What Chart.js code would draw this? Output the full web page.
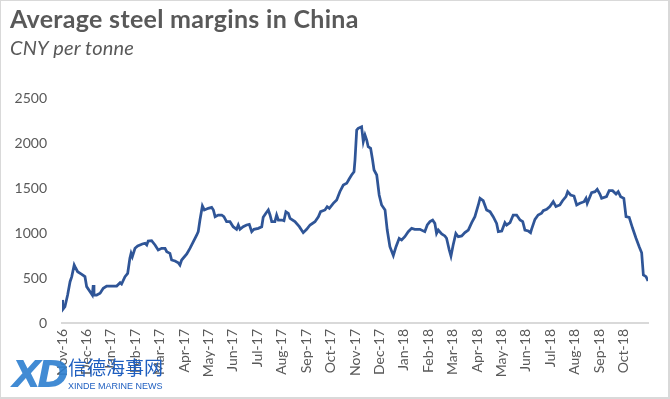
<!DOCTYPE html>
<html>
<head>
<meta charset="utf-8">
<script src="https://cdn.jsdelivr.net/npm/chart.js@4.4.1/dist/chart.umd.min.js"></script>
<style>
  html, body { margin: 0; padding: 0; background: #fff; }
  #wrap { position: relative; width: 670px; height: 399px; overflow: hidden; font-family: Lato, "Open Sans", sans-serif; }
  #grafico { position: absolute; left: 0; top: 0; }
  .titulo { position: absolute; left: 10px; top: 3px; font-size: 25px; font-weight: bold; color: #595959; white-space: nowrap; letter-spacing: 0.3px; }
  .subtitulo { position: absolute; left: 10px; top: 35px; font-size: 20px; font-style: italic; color: #595959; white-space: nowrap; letter-spacing: 0.2px; }
  .moldura { position: absolute; left: 0; top: 0; width: 670px; height: 399px; box-sizing: border-box; border: 1px solid #d9d9d9; border-right-width: 2px; border-bottom-width: 2px; pointer-events: none; }
  .marca { position: absolute; left: 12px; top: 355px; pointer-events: none; }
  .marca .xd { position: absolute; left: 0; top: 0; font: bold italic 38px "DejaVu Sans", sans-serif; color: #2d7fd0; letter-spacing: -4px; opacity: 0.9; line-height: 38px; }
  .marca .cn { position: absolute; left: 56px; top: 1px; font: 19px "Noto Sans CJK SC", sans-serif; color: #1f5fc0; letter-spacing: 0px; white-space: nowrap; line-height: 22px; }
  .marca .en { position: absolute; left: 56px; top: 26px; font: 9px "Liberation Sans", sans-serif; color: #1f5fc0; white-space: nowrap; }
</style>
</head>
<body>
<div id="wrap">
  <canvas id="grafico" width="670" height="399"></canvas>
  <div class="titulo">Average steel margins in China</div>
  <div class="subtitulo">CNY per tonne</div>
  <div class="marca">
    <div class="xd">XD</div>
    <div class="cn">信德海事网</div>
    <div class="en">XINDE MARINE NEWS</div>
  </div>
  <div class="moldura"></div>
</div>
<script>
// Rótulos dos meses (eixo x), um por início de mês a partir de Nov-16
const meses = [
    "Nov-16", "Dec-16", "Jan-17", "Feb-17", "Mar-17", "Apr-17", "May-17", "Jun-17",
    "Jul-17", "Aug-17", "Sep-17", "Oct-17", "Nov-17", "Dec-17", "Jan-18", "Feb-18",
    "Mar-18", "Apr-18", "May-18", "Jun-18", "Jul-18", "Aug-18", "Sep-18", "Oct-18"
];

// Rótulos do eixo y
const ticksY = [0, 500, 1000, 1500, 2000, 2500];

// Tempo de cada ponto, em meses desde 1 Nov 2016
const tempo = [
    0.00, 0.03, 0.12, 0.23, 0.33, 0.40, 0.50, 0.56, 0.64, 0.81, 0.94, 1.01, 1.15, 1.24, 1.28, 1.31,
    1.42, 1.56, 1.69, 1.83, 2.04, 2.24, 2.38, 2.44, 2.58, 2.69, 2.78, 2.83, 2.88, 2.99, 3.10, 3.29,
    3.40, 3.47, 3.53, 3.67, 3.81, 3.94, 4.08, 4.22, 4.29, 4.42, 4.49, 4.63, 4.76, 4.83, 4.90, 5.11,
    5.24, 5.38, 5.52, 5.58, 5.65, 5.75, 5.83, 5.99, 6.13, 6.20, 6.27, 6.40, 6.54, 6.63, 6.74, 6.88,
    7.01, 7.15, 7.22, 7.29, 7.42, 7.56, 7.67, 7.77, 7.86, 8.04, 8.18, 8.24, 8.35, 8.45, 8.52, 8.59,
    8.72, 8.79, 8.86, 9.00, 9.09, 9.17, 9.27, 9.34, 9.54, 9.72, 9.88, 10.02, 10.16, 10.36, 10.50, 10.59,
    10.77, 10.86, 10.95, 11.11, 11.25, 11.38, 11.52, 11.66, 11.76, 11.86, 11.96, 12.00, 12.07, 12.13, 12.27, 12.34,
    12.41, 12.48, 12.54, 12.64, 12.72, 12.78, 12.89, 12.99, 13.09, 13.23, 13.32, 13.43, 13.57, 13.68, 13.81, 13.91,
    14.04, 14.18, 14.32, 14.45, 14.66, 14.86, 14.96, 15.07, 15.18, 15.27, 15.34, 15.41, 15.55, 15.68, 15.75, 15.86,
    15.93, 16.02, 16.13, 16.23, 16.37, 16.50, 16.64, 16.78, 16.91, 17.05, 17.12, 17.25, 17.39, 17.53, 17.66, 17.80,
    17.87, 18.01, 18.14, 18.21, 18.35, 18.48, 18.62, 18.76, 18.87, 18.96, 19.10, 19.19, 19.23, 19.37, 19.50, 19.64,
    19.71, 19.85, 19.98, 20.12, 20.23, 20.39, 20.50, 20.64, 20.71, 20.83, 20.97, 21.08, 21.21, 21.38, 21.46, 21.51,
    21.69, 21.83, 21.92, 22.03, 22.10, 22.30, 22.41, 22.55, 22.69, 22.78, 22.88, 23.01, 23.10, 23.23, 23.37, 23.51,
    23.64, 23.74, 23.81, 23.92, 24.00
];

// Margem média do aço (CNY por tonelada)
const margens = [
    256, 150, 181, 311, 459, 515, 644, 611, 570, 541, 515, 404, 348, 311, 422, 311,
    311, 330, 385, 411, 411, 411, 448, 433, 515, 552, 718, 774, 737, 830, 856, 878,
    885, 867, 911, 915, 867, 811, 830, 830, 793, 774, 700, 689, 670, 644, 700, 767,
    830, 904, 978, 1015, 1144, 1300, 1256, 1274, 1285, 1256, 1181, 1200, 1200, 1181, 1126, 1126,
    1070, 1041, 1089, 1041, 1070, 1089, 1096, 1015, 1041, 1052, 1070, 1174, 1219, 1256, 1200, 1126,
    1126, 1200, 1144, 1144, 1137, 1237, 1219, 1163, 1126, 1070, 1004, 1041, 1089, 1126, 1181, 1237,
    1256, 1293, 1274, 1330, 1367, 1459, 1533, 1552, 1600, 1644, 1681, 1811, 2144, 2163, 2181, 2015,
    2089, 2033, 1959, 1941, 1811, 1700, 1644, 1422, 1311, 1256, 1033, 848, 750, 848, 941, 922,
    959, 1015, 1052, 1041, 1041, 1015, 1089, 1126, 1144, 1107, 996, 1033, 990, 967, 941, 811,
    744, 867, 996, 959, 967, 1004, 1033, 1115, 1181, 1311, 1385, 1359, 1256, 1237, 1181, 1107,
    1015, 1022, 1115, 1089, 1115, 1200, 1200, 1144, 1126, 1033, 1022, 1004, 1041, 1152, 1200, 1219,
    1248, 1263, 1293, 1348, 1293, 1311, 1359, 1404, 1459, 1422, 1411, 1311, 1330, 1348, 1385, 1330,
    1448, 1459, 1485, 1433, 1385, 1404, 1470, 1470, 1433, 1459, 1404, 1385, 1181, 1174, 1052, 941,
    848, 781, 533, 515, 467
];

const cinza = '#595959';
const fonteEixo = { family: 'Lato, "Open Sans", sans-serif', size: 14 };

function renderizarGrafico() {
    const ctx = document.getElementById('grafico').getContext('2d');
    const pontos = tempo.map((t, i) => ({ x: t, y: margens[i] }));

    new Chart(ctx, {
        type: 'line',
        data: {
            datasets: [{
                data: pontos,
                borderColor: '#2F5597',
                borderWidth: 2.75,
                pointRadius: 0,
                tension: 0,
                fill: false
            }]
        },
        options: {
            responsive: false,
            animation: false,
            layout: { padding: { left: 0, right: 22, top: 98, bottom: 0 } },
            plugins: {
                legend: { display: false },
                tooltip: { enabled: false }
            },
            scales: {
                x: {
                    type: 'linear',
                    min: 0,
                    max: 24,
                    grid: { display: false, drawTicks: false },
                    border: { display: true, color: '#d9d9d9', width: 2 },
                    afterBuildTicks: (escala) => {
                        escala.ticks = meses.map((_, i) => ({ value: i }));
                    },
                    afterFit: (escala) => { escala.height = 76; },
                    ticks: {
                        autoSkip: false,
                        minRotation: 90,
                        maxRotation: 90,
                        padding: 6,
                        color: cinza,
                        font: fonteEixo,
                        callback: (valor) => meses[valor] ?? ''
                    }
                },
                y: {
                    min: 0,
                    max: 2500,
                    grid: { display: false, drawTicks: false },
                    border: { display: false },
                    afterBuildTicks: (escala) => {
                        escala.ticks = ticksY.map(v => ({ value: v }));
                    },
                    afterFit: (escala) => { escala.width = 62; },
                    ticks: {
                        padding: 15,
                        color: cinza,
                        font: fonteEixo,
                        callback: (valor) => String(valor)
                    }
                }
            }
        }
    });
}

document.addEventListener('DOMContentLoaded', renderizarGrafico);
</script>
</body>
</html>
